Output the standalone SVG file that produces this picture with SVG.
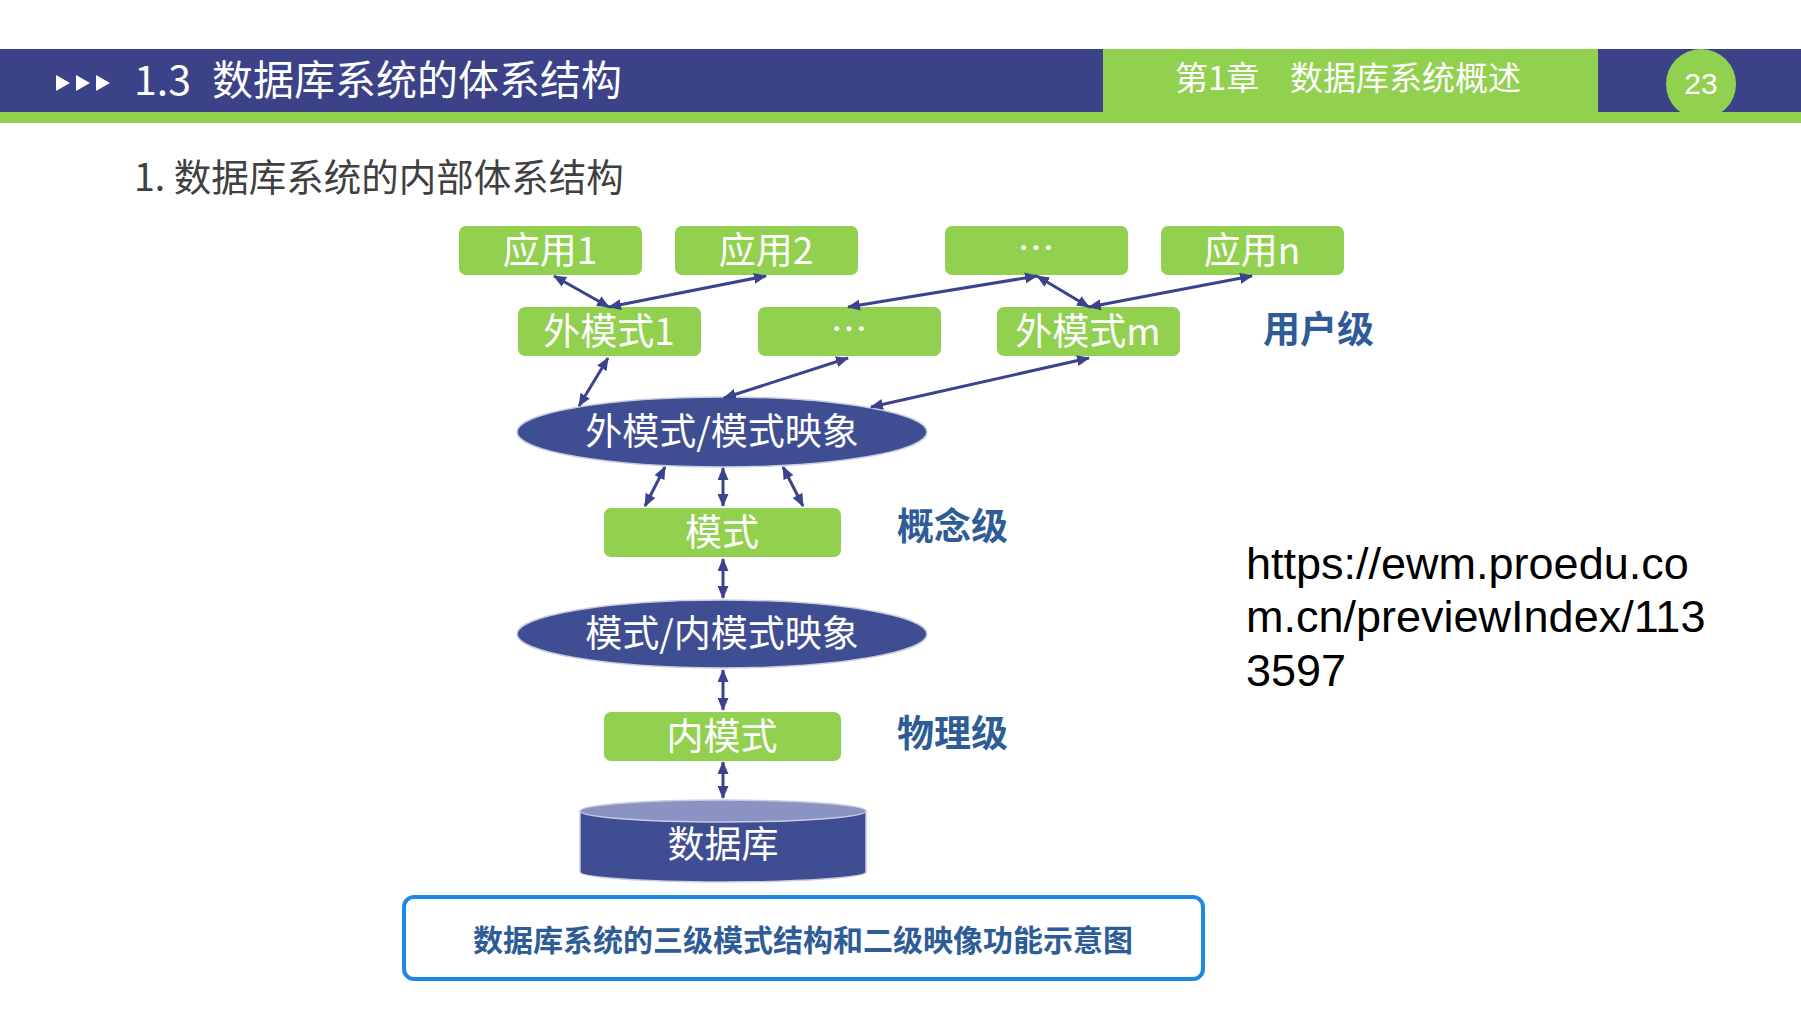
<svg xmlns="http://www.w3.org/2000/svg" width="1801" height="1013" viewBox="0 0 1801 1013">
<style>
.cjk{font-family:"Noto Sans CJK SC","Noto Sans",sans-serif}
.node rect{fill:#92D050}
.nt{font-family:"Noto Sans CJK SC","Noto Sans",sans-serif;font-size:37px;fill:#fff;text-anchor:middle}
.ell{fill:#3F4E93;stroke:#C9CDE0;stroke-width:1.5}
.lvl{font-family:"Noto Sans CJK SC","Noto Sans",sans-serif;font-size:37px;font-weight:bold;fill:#2E5C97}
.conn line{stroke:#3B438D;stroke-width:3;marker-start:url(#ah);marker-end:url(#ah)}
.url{font-family:"Liberation Sans",Arial,sans-serif;font-size:45px;fill:#000}
</style>
<defs>
<marker id="ah" markerUnits="userSpaceOnUse" markerWidth="13" markerHeight="11" viewBox="0 0 13 11" refX="12" refY="5.5" orient="auto-start-reverse">
<path d="M0,0 L13,5.5 L0,11 Z" fill="#3B438D"/>
</marker>
</defs>
<rect width="1801" height="1013" fill="#fff"/>
<g id="header">
<rect x="0" y="49" width="1801" height="64" fill="#3B4288"/>
<rect x="0" y="112" width="1801" height="11" fill="#92D050"/>
<rect x="1103" y="49" width="495" height="64" fill="#92D050"/>
<ellipse cx="1701" cy="84" rx="35" ry="35" fill="#92D050"/>
<polygon points="56,75 70,83 56,91" fill="#fff"/>
<polygon points="76,75 90,83 76,91" fill="#fff"/>
<polygon points="96,75 110,83 96,91" fill="#fff"/>
<text x="134" y="95" class="cjk" font-size="41" fill="#fff">1.3</text>
<text x="212" y="95" class="cjk" font-size="41" fill="#fff" textLength="410">数据库系统的体系结构</text>
<text x="1175" y="90" class="cjk" font-size="33" fill="#fff">第1章</text>
<text x="1290" y="90" class="cjk" font-size="33" fill="#fff">数据库系统概述</text>
<text x="1701" y="94" font-family="Liberation Sans,Arial,sans-serif" font-size="30" fill="#fff" text-anchor="middle">23</text>
</g>
<text x="134" y="191" class="cjk" font-size="37.5" fill="#404040">1. 数据库系统的内部体系结构</text>
<g id="app1" class="node"><rect x="459" y="226" width="183" height="49" rx="7"/><text class="nt" x="550" y="264">应用1</text></g>
<g id="app2" class="node"><rect x="675" y="226" width="183" height="49" rx="7"/><text class="nt" x="766" y="264">应用2</text></g>
<g id="appdots" class="node"><rect x="945" y="226" width="183" height="49" rx="7"/><text class="nt" x="1036" y="262">…</text></g>
<g id="appn" class="node"><rect x="1161" y="226" width="183" height="49" rx="7"/><text class="nt" x="1252" y="264">应用n</text></g>
<g id="ext1" class="node"><rect x="518" y="307" width="183" height="49" rx="7"/><text class="nt" x="609" y="345">外模式1</text></g>
<g id="extdots" class="node"><rect x="758" y="307" width="183" height="49" rx="7"/><text class="nt" x="849" y="343">…</text></g>
<g id="extm" class="node"><rect x="997" y="307" width="183" height="49" rx="7"/><text class="nt" x="1088" y="345">外模式m</text></g>
<text id="lvl-user" class="lvl" x="1263" y="343">用户级</text>
<g id="map1"><ellipse class="ell" cx="722" cy="432" rx="205" ry="35"/><text class="nt" x="722" y="445">外模式/模式映象</text></g>
<g id="schema" class="node"><rect x="604" y="508" width="237" height="49" rx="7"/><text class="nt" x="722" y="546">模式</text></g>
<text id="lvl-concept" class="lvl" x="897" y="540">概念级</text>
<g id="map2"><ellipse class="ell" cx="722" cy="634" rx="205" ry="34"/><text class="nt" x="722" y="647">模式/内模式映象</text></g>
<g id="internal" class="node"><rect x="604" y="712" width="237" height="49" rx="7"/><text class="nt" x="722" y="750">内模式</text></g>
<text id="lvl-phys" class="lvl" x="897" y="747">物理级</text>
<g id="db">
<path d="M580,811 L580,872 A143,10 0 0 0 866,872 L866,811 Z" fill="#3F4E93" stroke="#C9CDE0" stroke-width="1.5"/>
<ellipse cx="723" cy="811" rx="143" ry="11" fill="#8B93C2" stroke="#C9CDE0" stroke-width="1.5"/>
<text class="nt" x="723" y="858">数据库</text>
</g>
<g id="connectors" class="conn">
<line x1="554" y1="276" x2="609" y2="307"/>
<line x1="766" y1="276" x2="609" y2="307"/>
<line x1="1037" y1="276" x2="848" y2="307"/>
<line x1="1037" y1="276" x2="1089" y2="307"/>
<line x1="1252" y1="276" x2="1089" y2="307"/>
<line x1="608" y1="358" x2="579" y2="406"/>
<line x1="848" y1="358" x2="724" y2="398"/>
<line x1="1089" y1="358" x2="871" y2="407"/>
<line x1="665" y1="467" x2="645" y2="506"/>
<line x1="723" y1="468" x2="723" y2="506"/>
<line x1="783" y1="467" x2="803" y2="506"/>
<line x1="723" y1="559" x2="723" y2="598"/>
<line x1="723" y1="670" x2="723" y2="710"/>
<line x1="723" y1="762" x2="723" y2="798"/>
</g>
<g id="caption">
<rect x="404" y="897" width="799" height="82" rx="10" fill="#fff" stroke="#1E88E5" stroke-width="4"/>
<text x="803" y="951" class="cjk" font-size="30" font-weight="bold" fill="#2E5C97" text-anchor="middle">数据库系统的三级模式结构和二级映像功能示意图</text>
</g>
<g id="url">
<text class="url" x="1246" y="579">https://ewm.proedu.co</text>
<text class="url" x="1246" y="632">m.cn/previewIndex/113</text>
<text class="url" x="1246" y="686">3597</text>
</g>
</svg>
